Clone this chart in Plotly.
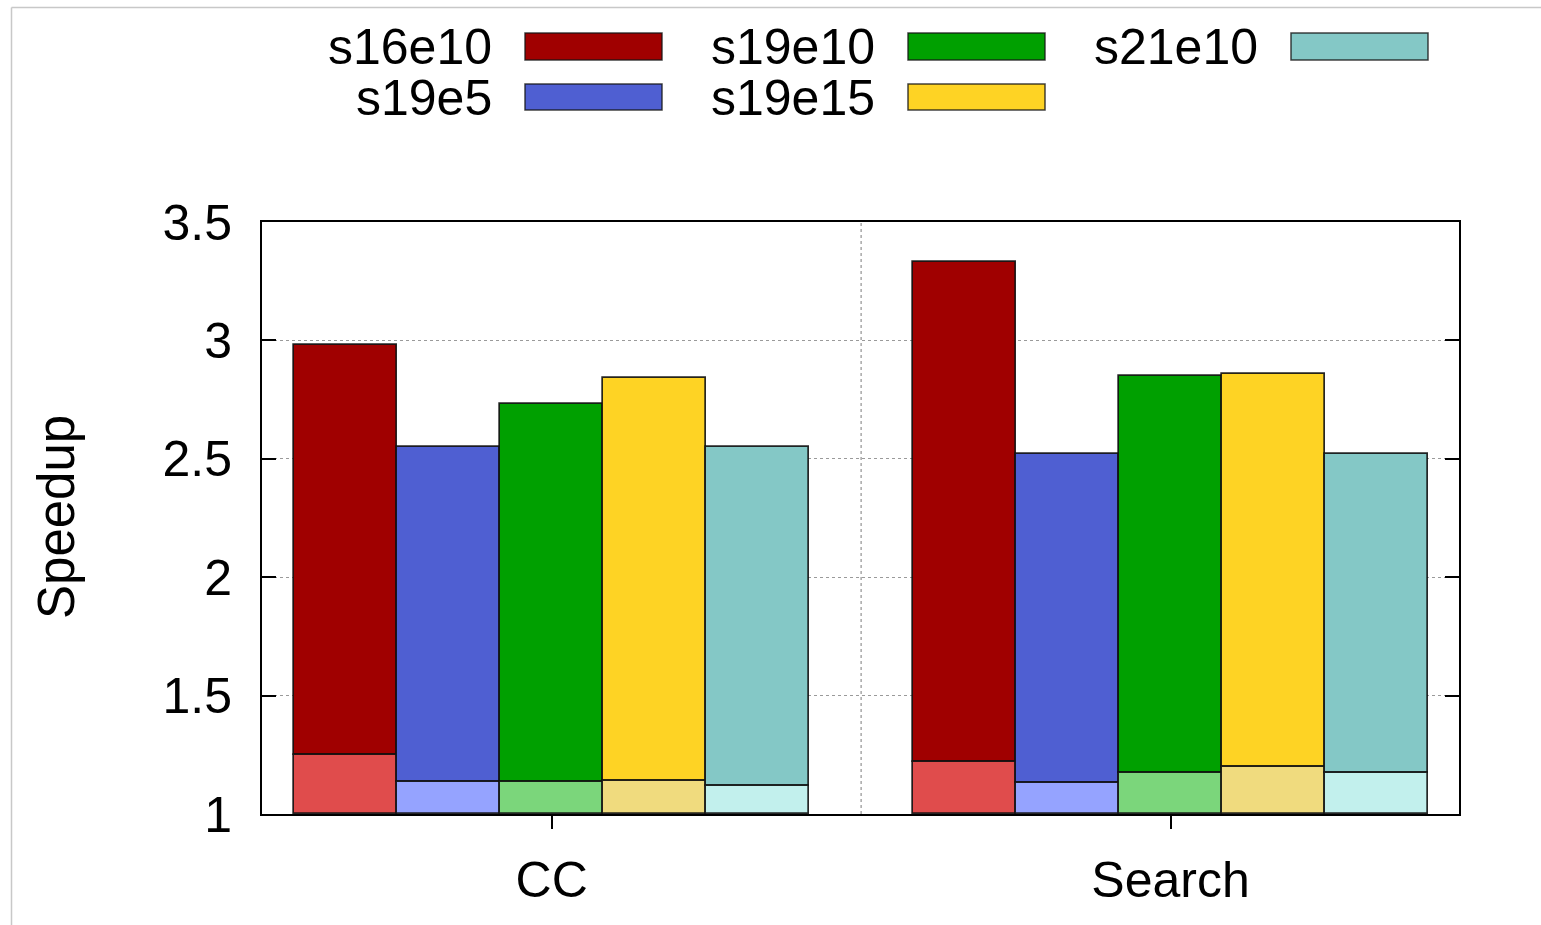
import plotly.graph_objects as go

# Benchmarks and input graph configurations
categories = ["CC", "Search"]
series = ["s16e10", "s19e5", "s19e10", "s19e15", "s21e10"]

# Total speedup (top of each bar)
speedup_total = {
    "s16e10": [2.98, 3.33],
    "s19e5": [2.55, 2.52],
    "s19e10": [2.73, 2.85],
    "s19e15": [2.84, 2.86],
    "s21e10": [2.55, 2.52],
}
# Base speedup (lower, lighter segment)
speedup_base = {
    "s16e10": [1.25, 1.22],
    "s19e5": [1.135, 1.13],
    "s19e10": [1.135, 1.175],
    "s19e15": [1.14, 1.20],
    "s21e10": [1.117, 1.172],
}

y_ticks = [1, 1.5, 2, 2.5, 3, 3.5]
y_tick_labels = ["1", "1.5", "2", "2.5", "3", "3.5"]

dark_colors = ["#a00000", "#4f5fd2", "#00a000", "#fed324", "#84c8c6"]
light_colors = ["#e04c4c", "#95a3ff", "#7bd67b", "#f0db7e", "#c2f0ed"]

FONT = "Liberation Sans, Arial, sans-serif"
W, H = 1541, 925
L, R, T, B = 262, 1459, 222, 814  # plot area in pixels

x_pos = list(range(len(categories)))
bar_w = 0.1665
group_start = -2.5 * bar_w

fig = go.Figure()
outline = dict(color="rgba(15,15,15,0.9)", width=1.7)

for i, name in enumerate(series):
    off = group_start + i * bar_w
    tops = speedup_total[name]
    bases = speedup_base[name]
    # upper segment: from base speedup to total speedup
    fig.add_trace(go.Bar(
        x=x_pos, y=[t - b for t, b in zip(tops, bases)], base=bases,
        width=bar_w, offset=off, marker=dict(color=dark_colors[i], line=outline),
        name=name, showlegend=False,
    ))
    # lower segment: from 1 to base speedup
    fig.add_trace(go.Bar(
        x=x_pos, y=[b - 1 for b in bases], base=[1] * len(bases),
        width=bar_w, offset=off, marker=dict(color=light_colors[i], line=outline),
        name=name + " base", showlegend=False,
    ))


def px_x(px):
    return (px - L) / (R - L)


def px_y(py):
    return (B - py) / (B - T)


shapes = []
annotations = []

# vertical dotted separator between the groups
shapes.append(dict(type="line", xref="x", yref="paper", x0=0.5, x1=0.5, y0=0, y1=1,
                   line=dict(color="#9a9a9a", width=1.3, dash="dot"), layer="below"))

# legend: label to the left, colour swatch to the right, 3 columns x 2 rows
col_text_right = [494, 877, 1260]
col_swatch = [(525, 662), (908, 1045), (1291, 1428)]
row_box = [(33, 60), (84, 110)]
legend_cells = [(0, 0), (1, 0), (0, 1), (1, 1), (0, 2)]  # (row, col) per series
for i, name in enumerate(series):
    r, c = legend_cells[i]
    y0, y1 = row_box[r]
    sx0, sx1 = col_swatch[c]
    shapes.append(dict(type="rect", xref="paper", yref="paper",
                       x0=px_x(sx0), x1=px_x(sx1), y0=px_y(y1), y1=px_y(y0),
                       fillcolor=dark_colors[i], line=dict(color="rgba(20,20,20,0.8)", width=1.5)))
    annotations.append(dict(xref="paper", yref="paper", x=px_x(col_text_right[c]),
                            y=px_y((y0 + y1) / 2 + 1), text=name, showarrow=False,
                            xanchor="right", yanchor="middle",
                            font=dict(family=FONT, size=50, color="black")))

# y axis title
annotations.append(dict(xref="paper", yref="paper", x=px_x(56), y=px_y(517), text="Speedup",
                        textangle=-90, showarrow=False, xanchor="center", yanchor="middle",
                        font=dict(family=FONT, size=51, color="black")))

# thin grey frame on the top and left edges of the page
shapes.append(dict(type="line", xref="paper", yref="paper", x0=px_x(11.5), x1=px_x(W),
                   y0=px_y(7.5), y1=px_y(7.5), line=dict(color="#c8c8c8", width=1.5)))
shapes.append(dict(type="line", xref="paper", yref="paper", x0=px_x(11.5), x1=px_x(11.5),
                   y0=px_y(7.5), y1=px_y(H), line=dict(color="#c8c8c8", width=1.5)))

fig.update_layout(
    width=W, height=H,
    margin=dict(l=L, r=W - R, t=T, b=H - B),
    paper_bgcolor="white", plot_bgcolor="white",
    barmode="overlay", bargap=0,
    showlegend=False,
    shapes=shapes, annotations=annotations,
    font=dict(family=FONT, size=50, color="black"),
)
fig.update_xaxes(
    range=[-0.468, 1.466], tickmode="array", tickvals=x_pos, ticktext=categories,
    ticks="outside", ticklen=13, tickwidth=2, tickcolor="black",
    showline=True, linecolor="black", linewidth=2, mirror=True,
    showgrid=False, zeroline=False, ticklabelstandoff=8,
    tickfont=dict(family=FONT, size=50, color="black"),
)
fig.update_yaxes(
    range=[1, 3.5], tickmode="array", tickvals=y_ticks, ticktext=y_tick_labels,
    ticks="inside", ticklen=14, tickwidth=2, tickcolor="black",
    showline=True, linecolor="black", linewidth=2, mirror="ticks",
    showgrid=True, gridcolor="#9a9a9a", gridwidth=1.3, griddash="dot",
    zeroline=False, ticklabelstandoff=18,
    tickfont=dict(family=FONT, size=50, color="black"),
)

fig.write_html("out.html")
